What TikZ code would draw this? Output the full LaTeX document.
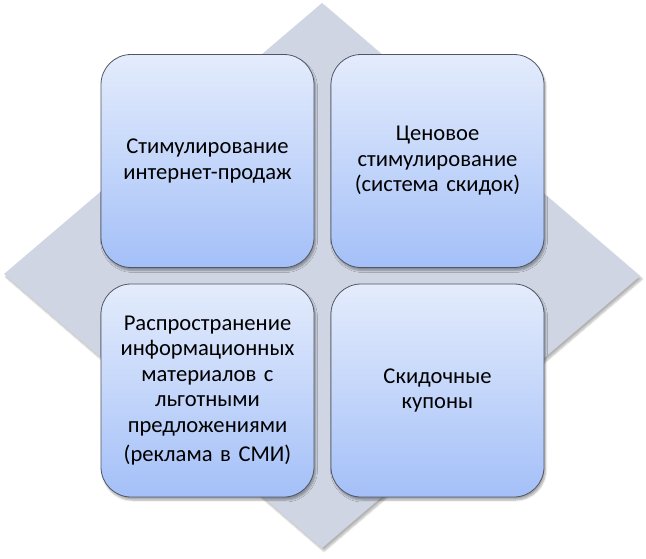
\documentclass[tikz,border=0pt]{standalone}
\usepackage{fontspec}
\setmainfont{Carlito}
\usetikzlibrary{shadows.blur}
\definecolor{diam}{RGB}{207,213,227}
\definecolor{btop}{RGB}{228,236,252}
\definecolor{bbot}{RGB}{164,192,248}
\definecolor{bline}{RGB}{80,86,100}
\begin{document}
\begin{tikzpicture}[x=1pt,y=-1pt,
  card/.style={draw=bline, line width=0.8pt, rounded corners=30pt,
    top color=btop, bottom color=bbot, minimum width=213pt, minimum height=213pt,
    inner sep=0pt, align=center, text width=205pt,
    font=\fontsize{22.6}{25.5}\selectfont,
    blur shadow={shadow xshift=1.5pt, shadow yshift=-3pt, shadow blur steps=6, shadow opacity=35}}]
\useasboundingbox (0,0) rectangle (646,558);
\path[fill=diam, blur shadow={shadow xshift=2pt, shadow yshift=-3pt, shadow blur steps=8, shadow opacity=30}]
  (322,3) -- (640,276) -- (322,548) -- (4,274) -- cycle;
\node[card] (tl) at (207.5,161) {Стимулирование\\интернет-продаж};
\node[card] (tr) at (437.5,161) {Ценовое\\стимулирование\\(система скидок)};
\node[card] (bl) at (207.5,390.5) {Распространение\\информационных\\материалов с\\льготными\\предложениями\\[4pt](реклама в СМИ)};
\node[card] (br) at (437.5,390.5) {Скидочные\\купоны};
\end{tikzpicture}
\end{document}
